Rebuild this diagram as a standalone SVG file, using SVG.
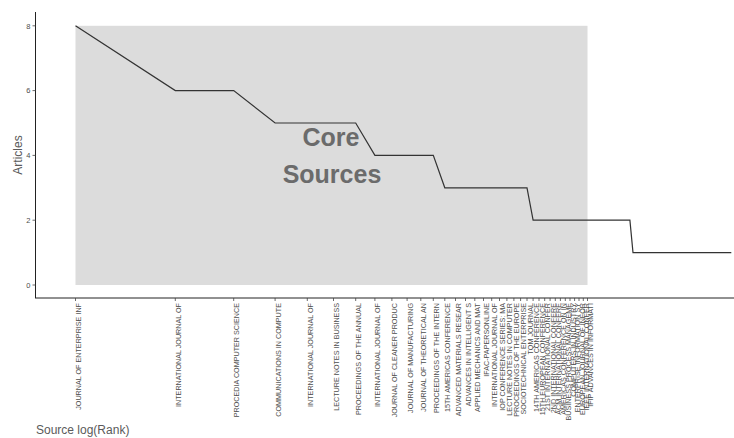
<svg xmlns="http://www.w3.org/2000/svg" width="734" height="438" viewBox="0 0 734 438">
<style>
.xl{font-family:"Liberation Sans",Arial,sans-serif;font-size:7.2px;fill:#4d4d4d;text-anchor:end}
.yl{font-family:"Liberation Sans",Arial,sans-serif;font-size:7.5px;fill:#4d4d4d;text-anchor:end}
.ttl{font-family:"Liberation Sans",Arial,sans-serif;font-size:12px;fill:#5a5a5a}
.core{font-family:"Liberation Sans",Arial,sans-serif;font-size:25px;font-weight:bold;fill:#6b6b6b;text-anchor:middle}
.tick{stroke:#444;stroke-width:0.8}
</style>
<rect width="734" height="438" fill="#ffffff"/>
<g id="core-area">
<rect x="75.5" y="25.8" width="512" height="259.2" fill="#dcdcdc"/>
<text class="core" x="331" y="146">Core</text>
<text class="core" x="332" y="183">Sources</text>
</g>
<g id="connectors">
<polyline fill="none" stroke="#333333" stroke-width="1.2" points="75.5,25.8 175.3,90.6 233.7,90.6 275.1,123 355.7,123 374.9,155.4 433.3,155.4 444.8,187.8 527,187.8 533.1,220.2 629.9,220.2 633,252.6 731.3,252.6"/>
</g>
<g id="axes">
<line x1="35.5" y1="12" x2="35.5" y2="298" stroke="#222" stroke-width="1"/>
<line x1="35" y1="298" x2="734" y2="298" stroke="#222" stroke-width="1"/>
<line class="tick" x1="32.5" y1="25.8" x2="35.5" y2="25.8"/>
<line class="tick" x1="32.5" y1="90.6" x2="35.5" y2="90.6"/>
<line class="tick" x1="32.5" y1="155.4" x2="35.5" y2="155.4"/>
<line class="tick" x1="32.5" y1="220.2" x2="35.5" y2="220.2"/>
<line class="tick" x1="32.5" y1="285" x2="35.5" y2="285"/>
<text class="yl" x="30.5" y="28.5">8</text>
<text class="yl" x="30.5" y="93.3">6</text>
<text class="yl" x="30.5" y="158.1">4</text>
<text class="yl" x="30.5" y="222.9">2</text>
<text class="yl" x="30.5" y="287.7">0</text>
<text class="ttl" transform="translate(22,155) rotate(-90)" text-anchor="middle">Articles</text>
<text class="ttl" x="36" y="434">Source log(Rank)</text>
</g>
<g id="x-ticks" stroke="#444" stroke-width="0.8">
<path d="M75.5 298v3M175.3 298v3M233.7 298v3M275.1 298v3M307.3 298v3M333.5 298v3M355.7 298v3M374.9 298v3M391.9 298v3M407.1 298v3M420.8 298v3M433.3 298v3M444.8 298v3M455.5 298v3M465.5 298v3M474.8 298v3M483.5 298v3M491.7 298v3M499.5 298v3M506.9 298v3M513.9 298v3M520.6 298v3M527 298v3M533.1 298v3M539 298v3M544.7 298v3M550.1 298v3M555.3 298v3M560.4 298v3M565.3 298v3M570 298v3M574.6 298v3M579 298v3M583.3 298v3M587.5 298v3"/>
</g>
<g id="x-labels">
<text class="xl" transform="translate(81,303) rotate(-90)">JOURNAL OF ENTERPRISE INF</text>
<text class="xl" transform="translate(180.8,303) rotate(-90)">INTERNATIONAL JOURNAL OF</text>
<text class="xl" transform="translate(239.2,303) rotate(-90)">PROCEDIA COMPUTER SCIENCE</text>
<text class="xl" transform="translate(280.6,303) rotate(-90)">COMMUNICATIONS IN COMPUTE</text>
<text class="xl" transform="translate(312.8,303) rotate(-90)">INTERNATIONAL JOURNAL OF</text>
<text class="xl" transform="translate(339,303) rotate(-90)">LECTURE NOTES IN BUSINESS</text>
<text class="xl" transform="translate(361.2,303) rotate(-90)">PROCEEDINGS OF THE ANNUAL</text>
<text class="xl" transform="translate(380.4,303) rotate(-90)">INTERNATIONAL JOURNAL OF</text>
<text class="xl" transform="translate(397.4,303) rotate(-90)">JOURNAL OF CLEANER PRODUC</text>
<text class="xl" transform="translate(412.6,303) rotate(-90)">JOURNAL OF MANUFACTURING</text>
<text class="xl" transform="translate(426.3,303) rotate(-90)">JOURNAL OF THEORETICAL AN</text>
<text class="xl" transform="translate(438.8,303) rotate(-90)">PROCEEDINGS OF THE INTERN</text>
<text class="xl" transform="translate(450.3,303) rotate(-90)">15TH AMERICAS CONFERENCE</text>
<text class="xl" transform="translate(461,303) rotate(-90)">ADVANCED MATERIALS RESEAR</text>
<text class="xl" transform="translate(471,303) rotate(-90)">ADVANCES IN INTELLIGENT S</text>
<text class="xl" transform="translate(480.3,303) rotate(-90)">APPLIED MECHANICS AND MAT</text>
<text class="xl" transform="translate(489,303) rotate(-90)">IFAC-PAPERSONLINE</text>
<text class="xl" transform="translate(497.2,303) rotate(-90)">INTERNATIONAL JOURNAL OF</text>
<text class="xl" transform="translate(505,303) rotate(-90)">IOP CONFERENCE SERIES: MA</text>
<text class="xl" transform="translate(512.4,303) rotate(-90)">LECTURE NOTES IN COMPUTER</text>
<text class="xl" transform="translate(519.4,303) rotate(-90)">PROCEEDINGS OF THE EUROPE</text>
<text class="xl" transform="translate(526.1,303) rotate(-90)">SOCIOTECHNICAL ENTERPRISE</text>
<text class="xl" transform="translate(532.5,303) rotate(-90)">TQM JOURNAL</text>
<text class="xl" transform="translate(538.6,303) rotate(-90)">14TH AMERICAS CONFERENCE</text>
<text class="xl" transform="translate(544.5,303) rotate(-90)">15TH EUROPEAN CONFERENCE</text>
<text class="xl" transform="translate(550.2,303) rotate(-90)">21ST INTERNATIONAL CONFER</text>
<text class="xl" transform="translate(555.6,303) rotate(-90)">2ND INTERNATIONAL CONFERE</text>
<text class="xl" transform="translate(560.8,303) rotate(-90)">ACM INTERNATIONAL CONFERE</text>
<text class="xl" transform="translate(565.9,303) rotate(-90)">AMERICAS CONFERENCE ON IN</text>
<text class="xl" transform="translate(570.8,303) rotate(-90)">BUSINESS PROCESS MANAGEME</text>
<text class="xl" transform="translate(575.5,303) rotate(-90)">COMPUTERS IN INDUSTRY</text>
<text class="xl" transform="translate(580.1,303) rotate(-90)">ENTERPRISE INFORMATION SY</text>
<text class="xl" transform="translate(584.5,303) rotate(-90)">EUROPEAN JOURNAL OF INFOR</text>
<text class="xl" transform="translate(588.8,303) rotate(-90)">IEEE INTERNATIONAL CONFER</text>
<text class="xl" transform="translate(593,303) rotate(-90)">IFIP ADVANCES IN INFORMATI</text>
</g>
</svg>
